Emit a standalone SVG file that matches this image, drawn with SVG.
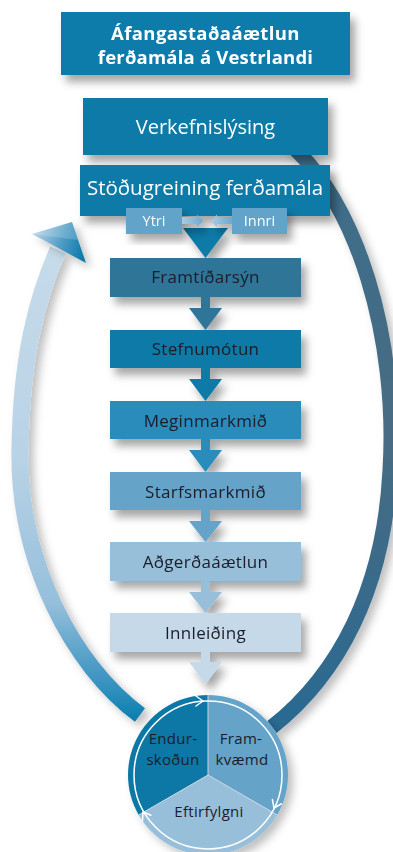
<svg xmlns="http://www.w3.org/2000/svg" width="393" height="852" viewBox="0 0 393 852">
<defs>
<filter id="sh" x="-20%" y="-20%" width="150%" height="160%">
<feDropShadow dx="5" dy="7" stdDeviation="4" flood-color="#000" flood-opacity="0.35"/>
</filter>
<filter id="sh2" x="-30%" y="-10%" width="160%" height="130%">
<feDropShadow dx="5" dy="5" stdDeviation="4" flood-color="#000" flood-opacity="0.25"/>
</filter>
<linearGradient id="gl" gradientUnits="userSpaceOnUse" x1="0" y1="250" x2="0" y2="720">
<stop offset="0" stop-color="#c6dbea"/>
<stop offset="0.45" stop-color="#b8d2e6"/>
<stop offset="0.75" stop-color="#96bfdb"/>
<stop offset="0.92" stop-color="#3a93c0"/>
<stop offset="1" stop-color="#0a7fb0"/>
</linearGradient>
<linearGradient id="gr" gradientUnits="userSpaceOnUse" x1="0" y1="150" x2="0" y2="725">
<stop offset="0" stop-color="#3c6d8a"/>
<stop offset="0.5" stop-color="#486c83"/>
<stop offset="1" stop-color="#2a6a91"/>
</linearGradient>
<linearGradient id="ga" gradientUnits="userSpaceOnUse" x1="32" y1="234" x2="86" y2="250">
<stop offset="0" stop-color="#b9d5e9"/>
<stop offset="0.55" stop-color="#4f9cc6"/>
<stop offset="1" stop-color="#0a78a8"/>
</linearGradient>
<linearGradient id="gs" x1="0" y1="0" x2="1" y2="0">
<stop offset="0" stop-color="#a9cbe2"/>
<stop offset="1" stop-color="#6fa9cd"/>
</linearGradient>
<style>
.t{font-family:"Open Sans","Noto Sans","DejaVu Sans",sans-serif;text-anchor:middle}
.w{fill:#ffffff}
.d{fill:#1b1d2a}
.s{font-size:17px;letter-spacing:0.3px}
.c{font-size:15px;letter-spacing:0.3px}
.chev{fill:none;stroke:#ffffff;stroke-width:1.5;stroke-linecap:round;stroke-linejoin:round}
</style>
</defs>
<rect width="393" height="852" fill="#ffffff"/>

<g id="connectors">
<path id="loop-left" d="M140,715 C72,665 18,560 20,450 C21,360 36,300 58,250" fill="none" stroke="url(#gl)" stroke-width="17" filter="url(#sh2)"/>
<path id="loop-right" d="M285,140 C358,200 398,340 390,470 C384,590 338,675 272,727" fill="none" stroke="url(#gr)" stroke-width="15" filter="url(#sh2)"/>
<g id="loop-arrowhead" filter="url(#sh2)">
<polygon points="32,234 72,222 86,263" fill="url(#ga)"/>
<polygon points="32,234 72,222 78,240" fill="#ffffff" opacity="0.18"/>
</g>
</g>

<g id="title" filter="url(#sh)">
<rect x="61" y="12" width="289" height="63" fill="#0b7bab"/>
<text class="t w" x="205.5" y="40" font-size="18.5" font-weight="bold" letter-spacing="0.4">Áfangastaðaáætlun</text>
<text class="t w" x="205.5" y="64" font-size="18.5" font-weight="bold" letter-spacing="0.2">ferðamála á Vestrlandi</text>
</g>

<g id="verkefnislysing" filter="url(#sh)">
<rect x="83" y="98" width="245" height="57" fill="#0a7aa8"/>
<text class="t w" x="205.5" y="134" font-size="20">Verkefnislýsing</text>
</g>

<g id="stodugreining" filter="url(#sh)">
<rect x="80" y="165" width="250" height="51" fill="#0a7aa8"/>
<text class="t w" x="205" y="195" font-size="20.5">Stöðugreining ferðamála</text>
</g>

<g id="arrow-main" filter="url(#sh)">
<polygon points="183,228 228,228 205.5,258" fill="#0a7aa8"/>
</g>

<g id="ytri" filter="url(#sh)">
<rect x="126" y="208" width="56" height="26" fill="#62a3c9"/>
<text class="t w" x="154" y="226" font-size="14.5">Ytri</text>
<polygon points="182,217 197,217 197,214.5 203,221 197,227.5 197,224 182,224" fill="url(#gs)"/>
</g>
<g id="innri" filter="url(#sh)">
<rect x="232" y="208" width="55" height="26" fill="#62a3c9"/>
<text class="t w" x="259.5" y="226" font-size="14.5">Innri</text>
<polygon points="232,217 217,217 217,214.5 211,221 217,227.5 217,224 232,224" fill="url(#gs)"/>
</g>

<g id="framtidarsyn" filter="url(#sh)">
<rect x="110" y="258" width="191" height="39" fill="#2e7597"/>
<text class="t d s" x="205.5" y="283">Framtíðarsýn</text>
<polygon points="201,297 210,297 210,308 222,308 205.5,330 189,308 201,308" fill="#2e7597"/>
</g>

<g id="stefnumotun" filter="url(#sh)">
<rect x="110" y="330" width="191" height="38" fill="#0a7aa8"/>
<text class="t d s" x="205.5" y="355">Stefnumótun</text>
<polygon points="201,368 210,368 210,379 222,379 205.5,401 189,379 201,379" fill="#0a7aa8"/>
</g>

<g id="meginmarkmid" filter="url(#sh)">
<rect x="110" y="401" width="191" height="38" fill="#2a8cbb"/>
<text class="t d s" x="205.5" y="427">Meginmarkmið</text>
<polygon points="201,439 210,439 210,450 222,450 205.5,472 189,450 201,450" fill="#2a8cbb"/>
</g>

<g id="starfsmarkmid" filter="url(#sh)">
<rect x="110" y="472" width="191" height="38" fill="#65a3c9"/>
<text class="t d s" x="205.5" y="498">Starfsmarkmið</text>
<polygon points="201,510 210,510 210,521 222,521 205.5,542 189,521 201,521" fill="#65a3c9"/>
</g>

<g id="adgerdaaaetlun" filter="url(#sh)">
<rect x="110" y="542" width="191" height="39" fill="#98bfda"/>
<text class="t d s" x="205.5" y="568">Aðgerðaáætlun</text>
<polygon points="201,581 210,581 210,592 222,592 205.5,613 189,592 201,592" fill="#98bfda"/>
</g>

<g id="innleiding" filter="url(#sh)">
<rect x="110" y="613" width="191" height="39" fill="#c5d9e8"/>
<text class="t d s" x="205.5" y="639">Innleiðing</text>
<polygon points="201,652 210,652 210,662 222,662 205.5,684 189,662 201,662" fill="#c5d9e8"/>
</g>

<g id="cycle">
<g filter="url(#sh2)">
<path d="M208,775 L208,695 A80,80 0 0 0 138.72,815 Z" fill="#0a78a6"/>
<path d="M208,775 L208,695 A80,80 0 0 1 277.28,815 Z" fill="#65a3c9"/>
<path d="M208,775 L277.28,815 A80,80 0 0 1 138.72,815 Z" fill="#98bfda"/>
</g>
<g stroke="#c9d6e0" stroke-width="1">
<line x1="208" y1="775" x2="208" y2="695"/>
<line x1="208" y1="775" x2="277.28" y2="815"/>
<line x1="208" y1="775" x2="138.72" y2="815"/>
</g>
<circle cx="208" cy="775" r="74" fill="none" stroke="#ffffff" stroke-width="1.5"/>
<polyline class="chev" points="-7,-5 0,0 -7,5" transform="translate(203,701)"/>
<polyline class="chev" points="-7,-5 0,0 -7,5" transform="translate(274,808) rotate(115)"/>
<polyline class="chev" points="-7,-5 0,0 -7,5" transform="translate(143,812) rotate(238)"/>
<text class="t d c" x="173" y="744">Endur-</text>
<text class="t d c" x="173" y="765">skoðun</text>
<text class="t d c" x="241" y="744">Fram-</text>
<text class="t d c" x="242" y="765">kvæmd</text>
<text class="t d c" x="209" y="817">Eftirfylgni</text>
</g>
</svg>
